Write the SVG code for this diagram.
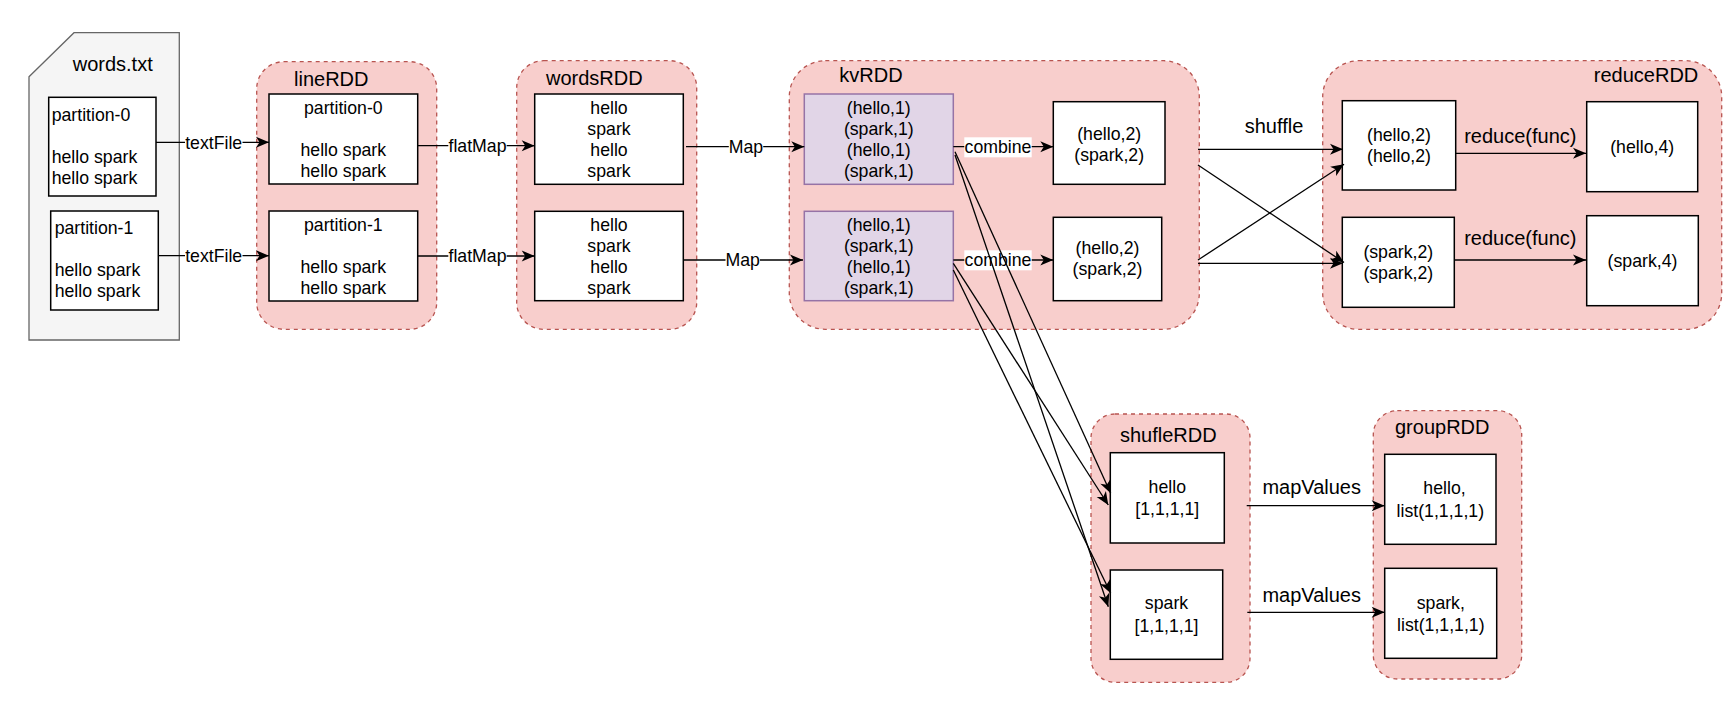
<svg xmlns="http://www.w3.org/2000/svg" width="1735" height="703" viewBox="0 0 1735 703">
<style>
text{font-family:"Liberation Sans",Arial,sans-serif;fill:#000}
.t{font-size:17.7px}
.c{text-anchor:middle}
.h{font-size:20px}
.cont{fill:#f8cecc;stroke:#b85450;stroke-width:1.3;stroke-dasharray:4 4}
.box{fill:#fff;stroke:#000;stroke-width:1.5}
.kv{fill:#e1d5e7;stroke:#9673a6;stroke-width:1.5}
.e{fill:none;stroke:#000;stroke-width:1.3;marker-end:url(#arr)}
.bg{fill:#fff}
</style>
<defs>
<marker id="arr" markerUnits="userSpaceOnUse" markerWidth="14" markerHeight="12" refX="13" refY="5.5" orient="auto" overflow="visible">
<path d="M0,0 L13,5.5 L0,11 L3.5,5.5 z" fill="#000"/>
</marker>
</defs>
<rect width="1735" height="703" fill="#fff"/>

<g id="words-txt">
<path d="M29,76.7 L74,32.7 L179.3,32.7 L179.3,340 L29,340 Z" fill="#f5f5f5" stroke="#666" stroke-width="1.3"/>
<text class="h" x="72.7" y="70.7">words.txt</text>
</g>
<g id="words-p0">
<rect class="box" x="48.7" y="97.3" width="107.3" height="98.7"/>
<text class="t" x="51.7" y="120.7">partition-0</text>
<text class="t" x="51.7" y="162.7">hello spark</text>
<text class="t" x="51.7" y="183.6">hello spark</text>
</g>
<g id="words-p1">
<rect class="box" x="50.7" y="211" width="107.6" height="99"/>
<text class="t" x="54.7" y="234.3">partition-1</text>
<text class="t" x="54.7" y="276">hello spark</text>
<text class="t" x="54.7" y="296.9">hello spark</text>
</g>

<g id="lineRDD">
<rect class="cont" x="256.7" y="61.7" width="180" height="267.6" rx="27"/>
<text class="h" x="294" y="85.7">lineRDD</text>
</g>
<g id="line-p0">
<rect class="box" x="269" y="94" width="148.7" height="90"/>
<text class="t c" x="343.3" y="114">partition-0</text>
<text class="t c" x="343.3" y="156">hello spark</text>
<text class="t c" x="343.3" y="176.7">hello spark</text>
</g>
<g id="line-p1">
<rect class="box" x="269" y="211" width="148.7" height="90"/>
<text class="t c" x="343.3" y="231">partition-1</text>
<text class="t c" x="343.3" y="273.3">hello spark</text>
<text class="t c" x="343.3" y="294">hello spark</text>
</g>

<g id="wordsRDD">
<rect class="cont" x="516.7" y="60.7" width="180" height="268.6" rx="27"/>
<text class="h" x="546" y="85">wordsRDD</text>
</g>
<g id="wordsRDD-b0">
<rect class="box" x="534.7" y="94" width="148.6" height="90.3"/>
<text class="t c" x="609" y="114">hello</text>
<text class="t c" x="609" y="135">spark</text>
<text class="t c" x="609" y="155.7">hello</text>
<text class="t c" x="609" y="176.5">spark</text>
</g>
<g id="wordsRDD-b1">
<rect class="box" x="534.7" y="211.3" width="148.6" height="89.4"/>
<text class="t c" x="609" y="231">hello</text>
<text class="t c" x="609" y="252">spark</text>
<text class="t c" x="609" y="273">hello</text>
<text class="t c" x="609" y="294">spark</text>
</g>

<g id="kvRDD">
<rect class="cont" x="789.3" y="60.7" width="410" height="268.6" rx="36"/>
<text class="h" x="839.3" y="82.3">kvRDD</text>
</g>
<g id="kv-b0">
<rect class="kv" x="804.3" y="94" width="149" height="90.3"/>
<text class="t c" x="878.8" y="114">(hello,1)</text>
<text class="t c" x="878.8" y="135">(spark,1)</text>
<text class="t c" x="878.8" y="156">(hello,1)</text>
<text class="t c" x="878.8" y="177">(spark,1)</text>
</g>
<g id="kv-b1">
<rect class="kv" x="804.3" y="211.3" width="149" height="89.4"/>
<text class="t c" x="878.8" y="231">(hello,1)</text>
<text class="t c" x="878.8" y="252">(spark,1)</text>
<text class="t c" x="878.8" y="273">(hello,1)</text>
<text class="t c" x="878.8" y="294">(spark,1)</text>
</g>
<g id="comb-b0">
<rect class="box" x="1053.3" y="101.7" width="111.7" height="82.6"/>
<text class="t c" x="1109.2" y="140">(hello,2)</text>
<text class="t c" x="1109.2" y="160.7">(spark,2)</text>
</g>
<g id="comb-b1">
<rect class="box" x="1053.3" y="217.3" width="108.4" height="83.4"/>
<text class="t c" x="1107.5" y="254">(hello,2)</text>
<text class="t c" x="1107.5" y="275">(spark,2)</text>
</g>

<g id="reduceRDD">
<rect class="cont" x="1322.7" y="60.7" width="399" height="268.6" rx="36"/>
<text class="h" x="1698.3" y="82.3" text-anchor="end">reduceRDD</text>
</g>
<g id="red-b0">
<rect class="box" x="1342.3" y="100.7" width="113.4" height="89.3"/>
<text class="t c" x="1399" y="140.7">(hello,2)</text>
<text class="t c" x="1399" y="161.7">(hello,2)</text>
</g>
<g id="red-b1">
<rect class="box" x="1342.3" y="217.3" width="112" height="90"/>
<text class="t c" x="1398.3" y="258.3">(spark,2)</text>
<text class="t c" x="1398.3" y="279.3">(spark,2)</text>
</g>
<g id="fin-b0">
<rect class="box" x="1586.7" y="101.7" width="111" height="90"/>
<text class="t c" x="1642.2" y="153.3">(hello,4)</text>
</g>
<g id="fin-b1">
<rect class="box" x="1586.7" y="215.7" width="111.6" height="90"/>
<text class="t c" x="1642.5" y="267.3">(spark,4)</text>
</g>

<g id="shufleRDD">
<rect class="cont" x="1091" y="414" width="159" height="268.3" rx="24"/>
<text class="h" x="1120" y="442.3">shufleRDD</text>
</g>
<g id="shuf-hello">
<rect class="box" x="1110.3" y="452.7" width="114" height="90.3"/>
<text class="t c" x="1167.3" y="492.7">hello</text>
<text class="t c" x="1167.3" y="515">[1,1,1,1]</text>
</g>
<g id="shuf-spark">
<rect class="box" x="1110.3" y="570" width="112.4" height="89.3"/>
<text class="t c" x="1166.5" y="609">spark</text>
<text class="t c" x="1166.5" y="631.7">[1,1,1,1]</text>
</g>

<g id="groupRDD">
<rect class="cont" x="1373.3" y="410.7" width="148.4" height="268.3" rx="24"/>
<text class="h" x="1395" y="434">groupRDD</text>
</g>
<g id="grp-hello">
<rect class="box" x="1384.7" y="454.3" width="111.3" height="90"/>
<text class="t c" x="1444.5" y="494.3">hello,</text>
<text class="t c" x="1440.3" y="516.7">list(1,1,1,1)</text>
</g>
<g id="grp-spark">
<rect class="box" x="1384.7" y="568.3" width="112" height="90"/>
<text class="t c" x="1440.8" y="609">spark,</text>
<text class="t c" x="1440.8" y="630.7">list(1,1,1,1)</text>
</g>

<g id="connectors">
<path class="e" d="M156,142.3 L269,142.3"/>
<rect class="bg" x="185" y="133" width="57.5" height="19"/>
<text class="t c" x="213.7" y="148.6">textFile</text>
<path class="e" d="M158.3,255.7 L269,255.7"/>
<rect class="bg" x="185" y="246.4" width="57.5" height="19"/>
<text class="t c" x="213.7" y="262">textFile</text>

<path class="e" d="M417.7,145.7 L534.7,145.7"/>
<rect class="bg" x="448.3" y="136.4" width="58.4" height="19"/>
<text class="t c" x="477.5" y="152">flatMap</text>
<path class="e" d="M417.7,256 L534.7,256"/>
<rect class="bg" x="448.3" y="246.7" width="58.4" height="19"/>
<text class="t c" x="477.5" y="262.3">flatMap</text>

<path class="e" d="M686,146.7 L804.3,146.7"/>
<rect class="bg" x="728.8" y="137.4" width="34.4" height="19"/>
<text class="t c" x="746" y="153">Map</text>
<path class="e" d="M684,260 L803,260"/>
<rect class="bg" x="725.5" y="250.7" width="34.4" height="19"/>
<text class="t c" x="742.7" y="266.3">Map</text>

<path class="e" d="M953.3,146.7 L1053.3,146.7"/>
<rect class="bg" x="964.3" y="137.3" width="67.4" height="20"/>
<text class="t c" x="998" y="152.7">combine</text>
<path class="e" d="M953.3,260 L1053.3,260"/>
<rect class="bg" x="964.3" y="250.3" width="67.4" height="20"/>
<text class="t c" x="998" y="266">combine</text>

<path class="e" d="M1198,149.3 L1343,149.3"/>
<path class="e" d="M1198,165 L1344,262.5"/>
<path class="e" d="M1198,260 L1344,164.3"/>
<path class="e" d="M1198,263.3 L1343,263.3"/>
<text class="h c" x="1274" y="133.3">shuffle</text>

<path class="e" d="M1455.7,153.3 L1586,153.3"/>
<text class="h c" x="1520.3" y="142.7">reduce(func)</text>
<path class="e" d="M1454.3,260 L1586,260"/>
<text class="h c" x="1520.3" y="245">reduce(func)</text>

<path class="e" d="M955,151.7 L1110.7,493.3"/>
<path class="e" d="M955,155 L1108.3,606.7"/>
<path class="e" d="M953.3,263.3 L1108.3,505"/>
<path class="e" d="M953.3,270 L1110.7,593.3"/>

<path class="e" d="M1246.7,505.7 L1384.7,505.7"/>
<text class="h c" x="1311.7" y="494.3">mapValues</text>
<path class="e" d="M1247.3,612.3 L1384.7,612.3"/>
<text class="h c" x="1311.7" y="602.3">mapValues</text>
</g>
</svg>
